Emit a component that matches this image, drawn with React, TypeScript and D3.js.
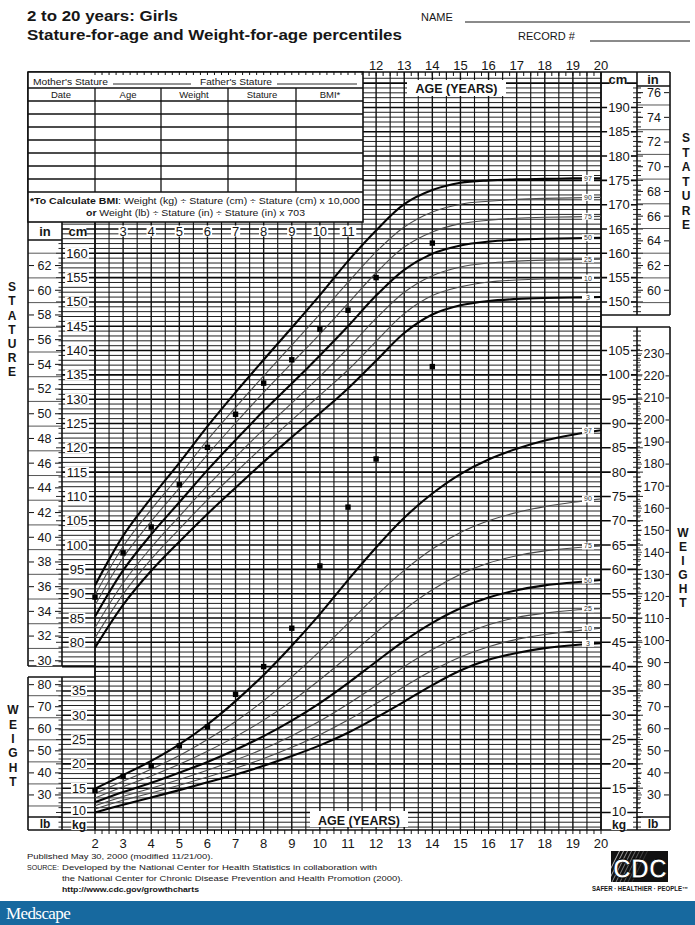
import React from 'react';
import * as d3 from 'd3';

// ---------- DATA ----------
const AGES = [2, 3, 4, 5, 6, 7, 8, 9, 10, 11, 12, 13, 14, 15, 16, 17, 18, 19, 20];
const PERCENTILES = ['97', '90', '75', '50', '25', '10', '3'];
const BOLD_PCT = ['97', '50', '3'];

const STATURE_P97 = [91.7, 101.9, 109.7, 116.9, 124.4, 131.4, 138.1, 144.7, 151.4, 158.4, 164.7, 170.1, 173.0, 174.5, 175.0, 175.2, 175.3, 175.4, 175.4];
const STATURE_P90 = [89.7, 99.7, 107.3, 114.3, 121.6, 128.3, 134.8, 141.1, 147.5, 154.0, 160.3, 165.4, 168.5, 170.1, 170.7, 171.1, 171.3, 171.4, 171.5];
const STATURE_P75 = [87.6, 97.4, 104.9, 111.7, 118.6, 125.1, 131.4, 137.4, 143.4, 149.7, 156.0, 161.3, 164.4, 166.1, 166.8, 167.2, 167.4, 167.5, 167.6];
const STATURE_P50 = [85.3, 94.8, 102.2, 108.8, 115.4, 121.6, 127.6, 133.2, 139.0, 145.0, 151.3, 156.6, 159.9, 161.6, 162.4, 162.8, 163.0, 163.1, 163.2];
const STATURE_P25 = [83.0, 92.2, 99.5, 105.9, 112.2, 118.1, 123.8, 129.2, 134.7, 140.5, 146.6, 152.0, 155.4, 157.2, 158.0, 158.4, 158.6, 158.7, 158.8];
const STATURE_P10 = [80.9, 89.9, 97.1, 103.3, 109.3, 114.9, 120.4, 125.7, 130.8, 136.0, 141.9, 147.6, 151.3, 153.1, 154.1, 154.5, 154.7, 154.8, 154.9];
const STATURE_P3 = [78.9, 87.7, 94.7, 100.7, 106.4, 111.8, 117.1, 122.2, 127.1, 132.2, 137.9, 143.6, 147.4, 149.3, 150.2, 150.6, 150.8, 150.9, 151.0];

const WEIGHT_P97 = [14.9, 17.7, 20.6, 24.0, 28.1, 32.9, 38.3, 44.3, 50.8, 57.8, 64.5, 70.6, 75.6, 79.6, 82.6, 84.8, 86.5, 87.7, 88.6];
const WEIGHT_P90 = [13.9, 16.4, 18.9, 21.7, 25.0, 28.7, 33.0, 37.9, 43.2, 48.9, 54.6, 59.8, 64.2, 67.6, 70.0, 71.7, 72.9, 73.8, 74.5];
const WEIGHT_P75 = [13.0, 15.3, 17.5, 19.9, 22.6, 25.6, 29.0, 32.9, 37.3, 42.1, 47.0, 51.7, 55.8, 59.0, 61.3, 62.8, 63.8, 64.4, 64.8];
const WEIGHT_P50 = [12.1, 14.2, 16.1, 18.2, 20.4, 22.9, 25.7, 28.9, 32.5, 36.6, 41.0, 45.3, 49.0, 52.0, 54.2, 55.7, 56.7, 57.3, 57.8];
const WEIGHT_P25 = [11.4, 13.3, 15.0, 16.8, 18.7, 20.8, 23.1, 25.8, 28.8, 32.3, 36.1, 40.0, 43.5, 46.4, 48.6, 50.1, 51.0, 51.6, 51.9];
const WEIGHT_P10 = [10.7, 12.5, 14.0, 15.6, 17.3, 19.1, 21.1, 23.4, 26.0, 29.0, 32.4, 35.9, 39.2, 42.0, 44.1, 45.6, 46.6, 47.3, 47.9];
const WEIGHT_P3 = [10.0, 11.6, 13.1, 14.6, 16.2, 17.8, 19.6, 21.6, 23.8, 26.4, 29.5, 32.8, 36.2, 39.2, 41.4, 42.8, 43.8, 44.4, 44.8];

const DOT_AGES = [2, 3, 4, 5, 6, 7, 8, 9, 10, 11, 12, 14];
const STATURE_DOTS = [89.3, 98.4, 103.7, 112.4, 120.1, 126.9, 133.3, 138.1, 144.4, 148.3, 155.0, 162.1];
const WEIGHT_DOTS = [14.5, 17.4, 19.6, 23.7, 27.6, 34.3, 40.0, 47.9, 60.7, 72.8, 82.7, 101.7];

const TOP_AGE_LABELS = [12, 13, 14, 15, 16, 17, 18, 19, 20];
const INNER_AGE_LABELS = [3, 4, 5, 6, 7, 8, 9, 10, 11];
const BOTTOM_AGE_LABELS = [2, 3, 4, 5, 6, 7, 8, 9, 10, 11, 12, 13, 14, 15, 16, 17, 18, 19, 20];
const CM_LEFT = [80, 85, 90, 95, 100, 105, 110, 115, 120, 125, 130, 135, 140, 145, 150, 155, 160];
const IN_LEFT = [30, 32, 34, 36, 38, 40, 42, 44, 46, 48, 50, 52, 54, 56, 58, 60, 62];
const CM_RIGHT = [150, 155, 160, 165, 170, 175, 180, 185, 190];
const IN_RIGHT = [60, 62, 64, 66, 68, 70, 72, 74, 76];
const KG_LEFT = [10, 15, 20, 25, 30, 35];
const LB_LEFT = [30, 40, 50, 60, 70, 80];
const KG_RIGHT = [10, 15, 20, 25, 30, 35, 40, 45, 50, 55, 60, 65, 70, 75, 80, 85, 90, 95, 100, 105];
const LB_RIGHT = [30, 40, 50, 60, 70, 80, 90, 100, 110, 120, 130, 140, 150, 160, 170, 180, 190, 200, 210, 220, 230];
const TABLE_COLUMNS = ['Date', 'Age', 'Weight', 'Stature', 'BMI*'];

const STATURE_SERIES = [STATURE_P97, STATURE_P90, STATURE_P75, STATURE_P50, STATURE_P25, STATURE_P10, STATURE_P3];
const WEIGHT_SERIES = [WEIGHT_P97, WEIGHT_P90, WEIGHT_P75, WEIGHT_P50, WEIGHT_P25, WEIGHT_P10, WEIGHT_P3];

// ---------- SCALES ----------
const x = d3.scaleLinear().domain([2, 20]).range([95, 601]);
const yS = d3.scaleLinear().domain([80, 160]).range([642.3, 253.3]);
const yW = d3.scaleLinear().domain([10, 105]).range([yS(45), yS(140)]);
const yIn = (v: number) => yS(v * 2.54);
const yLb = (v: number) => yW(v * 0.45359237);

const F = "'Liberation Sans', Arial, Helvetica, sans-serif";
const INK = '#161616';

const GRID_TOP = 72;
const GRID_BOTTOM = 830;
const TABLE_BOTTOM = 222;
const TABLE_RIGHT = 363;

function Label({ x: lx, y: ly, text, size = 13, bold = false, bg = true, anchor = 'middle' as any, w }: any) {
  const width = w ?? String(text).length * size * 0.56 + 2;
  const bx = anchor === 'middle' ? lx - width / 2 : anchor === 'end' ? lx - width : lx;
  return (
    <g>
      {bg && <rect x={bx} y={ly - size * 0.42} width={width} height={size * 0.84} fill="#fff" />}
      <text x={lx} y={ly} dy="0.35em" textAnchor={anchor} fontFamily={F} fontSize={size} fontWeight={bold ? 'bold' : 'normal'} fill={INK}>
        {text}
      </text>
    </g>
  );
}

export default function App() {
  const hLines: any[] = [];
  d3.range(42, 198).forEach((cm) => {
    const y = yS(cm);
    if (y < GRID_TOP + 2 || y > GRID_BOTTOM - 1) return;
    const major = cm % 5 === 0;
    let x0 = 62;
    if (y < TABLE_BOTTOM + 1) x0 = TABLE_RIGHT;
    else if (y > 667 && y < 678) x0 = 95;
    let x1 = 601;
    if (major && (y < 315 || y > 327)) x1 = 637;
    hLines.push(
      <line key={'h' + cm} x1={x0} x2={x1} y1={y} y2={y} stroke={major ? '#0a0a0a' : '#222'} strokeWidth={major ? 1.6 : 1.0} />
    );
  });

  const vLines: any[] = [];
  d3.range(2, 20.01, 0.5).forEach((a) => {
    const xx = x(a);
    const top = xx >= TABLE_RIGHT - 1 ? GRID_TOP : TABLE_BOTTOM;
    const whole = Math.abs(a - Math.round(a)) < 0.01;
    vLines.push(<line key={'v' + a} x1={xx} x2={xx} y1={top} y2={GRID_BOTTOM} stroke="#111" strokeWidth={whole ? 1.4 : 1.1} />);
  });

  const qTicks: any[] = [];
  d3.range(2, 20.01, 0.25).forEach((a) => {
    const xx = x(a);
    qTicks.push(<line key={'tq' + a} x1={xx} x2={xx} y1={GRID_TOP} y2={GRID_TOP + 4} stroke="#111" strokeWidth={1} />);
    qTicks.push(<line key={'bq' + a} x1={xx} x2={xx} y1={GRID_BOTTOM} y2={GRID_BOTTOM + 4} stroke="#111" strokeWidth={1} />);
  });

  const axisTicks: any[] = [];
  d3.range(42, 198).forEach((cm) => {
    const y = yS(cm);
    const major = cm % 5 === 0;
    if ((y > 241 && y < 666) || (y > 678 && y < 829)) {
      axisTicks.push(<line key={'la' + cm} x1={major ? 56 : 58.5} x2={62} y1={y} y2={y} stroke="#111" strokeWidth={0.9} />);
    }
    if ((y > 87 && y < 314) || (y > 328 && y < 829)) {
      axisTicks.push(<line key={'ra' + cm} x1={major ? 630 : 633} x2={major ? 643 : 641} y1={y} y2={y} stroke="#111" strokeWidth={0.9} />);
    }
  });

  const statureLine = d3
    .line<number>()
    .x((_, i) => x(AGES[i]))
    .y((d) => yS(d))
    .curve(d3.curveCatmullRom.alpha(0.5));
  const statPaths = STATURE_SERIES.map((s) => statureLine(s) as string);
  const weightLine = d3
    .line<number>()
    .x((_, i) => x(AGES[i]))
    .y((d) => yW(d))
    .curve(d3.curveCatmullRom.alpha(0.5));
  const weightPaths = WEIGHT_SERIES.map((s) => weightLine(s) as string);

  const tableRows = [101, 114, 127, 140, 153, 166, 179, 192];
  const tableCols = [95, 161, 228, 296];
  const colCenters = [61, 128, 194, 262, 330];

  return (
    <div style={{ position: 'absolute', left: 0, top: 0, width: 695, height: 925, background: '#fff' }}>
      <svg width={695} height={925} viewBox="0 0 695 925" style={{ display: 'block' }}>
        <rect x={0} y={0} width={695} height={925} fill="#fff" />

        {/* Header */}
        <text x={27} y={21} fontFamily={F} fontSize={15} fontWeight="bold" fill={INK} textLength={151} lengthAdjust="spacingAndGlyphs">
          2 to 20 years: Girls
        </text>
        <text x={27} y={40} fontFamily={F} fontSize={15} fontWeight="bold" fill={INK} textLength={375} lengthAdjust="spacingAndGlyphs">
          Stature-for-age and Weight-for-age percentiles
        </text>
        <text x={421} y={21} fontFamily={F} fontSize={11} fill={INK}>NAME</text>
        <line x1={465} x2={690} y1={22} y2={22} stroke={INK} strokeWidth={1} />
        <text x={518} y={40} fontFamily={F} fontSize={11} fill={INK}>RECORD #</text>
        <line x1={590} x2={690} y1={41} y2={41} stroke={INK} strokeWidth={1} />

        {TOP_AGE_LABELS.map((a) => (
          <text key={'ta' + a} x={x(a)} y={70} textAnchor="middle" fontFamily={F} fontSize={13} fill={INK}>{a}</text>
        ))}

        {/* grid */}
        <g>{hLines}</g>
        <g>{vLines}</g>
        <g>{qTicks}</g>
        <g>{axisTicks}</g>

        {d3.range(31, 64, 2).map((v) => {
          const y = yIn(v);
          if (y < 242 || y > 665) return null;
          return <line key={'lin' + v} x1={28} x2={62} y1={y} y2={y} stroke="#444" strokeWidth={0.9} />;
        })}
        {d3.range(59, 78, 2).map((v) => {
          const y = yIn(v);
          if (y < 87 || y > 314) return null;
          return <line key={'rin' + v} x1={637} x2={670} y1={y} y2={y} stroke="#444" strokeWidth={0.9} />;
        })}
        {[25, 35, 45, 55, 65, 75].map((v) => (
          <line key={'llb' + v} x1={28} x2={62} y1={yLb(v)} y2={yLb(v)} stroke="#444" strokeWidth={0.9} />
        ))}
        {d3.range(24, 236, 2).map((v) => {
          const y = yLb(v);
          if (y < 329 || y > 815) return null;
          return <line key={'rlb' + v} x1={637} x2={v % 10 === 0 ? 642 : 640} y1={y} y2={y} stroke="#111" strokeWidth={0.7} />;
        })}

        {/* borders */}
        <g fill="none" stroke="#111" strokeWidth={1.6}>
          <line x1={28} x2={670} y1={GRID_TOP} y2={GRID_TOP} />
          <line x1={28} x2={670} y1={GRID_BOTTOM} y2={GRID_BOTTOM} />
          <line x1={28} x2={28} y1={GRID_TOP} y2={666} />
          <line x1={28} x2={28} y1={677} y2={GRID_BOTTOM} />
          <line x1={62} x2={62} y1={TABLE_BOTTOM} y2={666} />
          <line x1={62} x2={62} y1={677} y2={GRID_BOTTOM} />
          <line x1={28} x2={95} y1={666} y2={666} />
          <line x1={28} x2={95} y1={677} y2={677} />
          <line x1={95} x2={95} y1={TABLE_BOTTOM} y2={GRID_BOTTOM} />
          <line x1={601} x2={601} y1={GRID_TOP} y2={GRID_BOTTOM} />
          <line x1={637} x2={637} y1={GRID_TOP} y2={315} />
          <line x1={637} x2={637} y1={327} y2={GRID_BOTTOM} />
          <line x1={670} x2={670} y1={GRID_TOP} y2={315} />
          <line x1={670} x2={670} y1={327} y2={GRID_BOTTOM} />
          <line x1={601} x2={670} y1={315} y2={315} />
          <line x1={601} x2={670} y1={327} y2={327} />
          <line x1={28} x2={62} y1={240} y2={240} />
          <line x1={637} x2={670} y1={86} y2={86} />
          <line x1={28} x2={62} y1={817} y2={817} />
          <line x1={637} x2={670} y1={817} y2={817} />
        </g>

        {/* table */}
        <rect x={28} y={GRID_TOP} width={TABLE_RIGHT - 28} height={TABLE_BOTTOM - GRID_TOP} fill="#fff" stroke="#111" strokeWidth={1.6} />
        {d3.range(2, 11.6, 0.25).map((a) => (
          <line key={'tt' + a} x1={x(a)} x2={x(a)} y1={GRID_TOP} y2={GRID_TOP + 3} stroke="#111" strokeWidth={1} />
        ))}
        <line x1={28} x2={TABLE_RIGHT} y1={88} y2={88} stroke="#111" strokeWidth={1.4} />
        {tableRows.map((ry) => (
          <line key={'tr' + ry} x1={28} x2={TABLE_RIGHT} y1={ry} y2={ry} stroke="#111" strokeWidth={1.3} />
        ))}
        {tableCols.map((cx) => (
          <line key={'tc' + cx} x1={cx} x2={cx} y1={88} y2={192} stroke="#111" strokeWidth={1.3} />
        ))}
        <text x={33} y={84.5} fontFamily={F} fontSize={9.5} fill={INK} textLength={75} lengthAdjust="spacingAndGlyphs">Mother's Stature</text>
        <line x1={113} x2={191} y1={84} y2={84} stroke="#111" strokeWidth={0.9} />
        <text x={200} y={84.5} fontFamily={F} fontSize={9.5} fill={INK} textLength={72} lengthAdjust="spacingAndGlyphs">Father's Stature</text>
        <line x1={277} x2={357} y1={84} y2={84} stroke="#111" strokeWidth={0.9} />
        {TABLE_COLUMNS.map((c, i) => (
          <text key={'th' + c} x={colCenters[i]} y={98} textAnchor="middle" fontFamily={F} fontSize={9.5} fill={INK}>{c}</text>
        ))}
        <text x={30} y={204} fontFamily={F} fontSize={9.6} fill={INK} textLength={330} lengthAdjust="spacingAndGlyphs">
          <tspan fontWeight="bold">*To Calculate BMI</tspan>: Weight (kg) ÷ Stature (cm) ÷ Stature (cm) x 10,000
        </text>
        <text x={86} y={215.5} fontFamily={F} fontSize={9.6} fill={INK} textLength={219} lengthAdjust="spacingAndGlyphs">
          <tspan fontWeight="bold">or</tspan> Weight (lb) ÷ Stature (in) ÷ Stature (in) x 703
        </text>

        {/* percentile curves */}
        {statPaths.map((p, i) => {
          const bold = BOLD_PCT.includes(PERCENTILES[i]);
          return <path key={'sp' + i} d={p} fill="none" stroke={bold ? '#050505' : '#4a4a4a'} strokeWidth={bold ? 2.1 : 1.1} />;
        })}
        {weightPaths.map((p, i) => {
          const bold = BOLD_PCT.includes(PERCENTILES[i]);
          return <path key={'wp' + i} d={p} fill="none" stroke={bold ? '#050505' : '#4a4a4a'} strokeWidth={bold ? 2.1 : 1.1} />;
        })}

        {STATURE_SERIES.map((s, i) => (
          <g key={'sl' + i}>
            <rect x={582} y={yS(s[s.length - 1]) - 3.5} width={12} height={7} fill="#fff" />
            <text x={588} y={yS(s[s.length - 1])} dy="0.35em" textAnchor="middle" fontFamily={F} fontSize={7} fill="#333">{PERCENTILES[i]}</text>
          </g>
        ))}
        {WEIGHT_SERIES.map((s, i) => (
          <g key={'wl' + i}>
            <rect x={582} y={yW(s[s.length - 1]) - 3.5} width={12} height={7} fill="#fff" />
            <text x={588} y={yW(s[s.length - 1])} dy="0.35em" textAnchor="middle" fontFamily={F} fontSize={7} fill="#333">{PERCENTILES[i]}</text>
          </g>
        ))}

        {/* AGE (YEARS) boxes */}
        <rect x={407} y={80} width={99} height={16} fill="#fff" />
        <text x={456.5} y={93} textAnchor="middle" fontFamily={F} fontSize={12.5} fontWeight="bold" fill={INK}>AGE (YEARS)</text>
        <rect x={310} y={811} width={98} height={16} fill="#fff" />
        <text x={359} y={824.5} textAnchor="middle" fontFamily={F} fontSize={12.5} fontWeight="bold" fill={INK}>AGE (YEARS)</text>

        <Label x={45} y={231} text="in" bold />
        <Label x={78} y={231} text="cm" bold />
        {INNER_AGE_LABELS.map((a) => (
          <Label key={'ia' + a} x={x(a)} y={231} text={a} />
        ))}
        <Label x={618} y={79} text="cm" bold />
        <Label x={653} y={79} text="in" bold bg={false} />
        <Label x={619} y={825} text="kg" bold size={12} />
        <Label x={653} y={824} text="lb" bold bg={false} size={12} />
        <Label x={45} y={824} text="lb" bold bg={false} size={12} />
        <Label x={79} y={825} text="kg" bold size={12} />

        {/* left axis labels */}
        {CM_LEFT.map((v) => (
          <Label key={'cl' + v} x={77} y={yS(v)} text={v} />
        ))}
        {IN_LEFT.map((v) => (
          <g key={'il' + v}>
            <line x1={29} x2={34} y1={yIn(v)} y2={yIn(v)} stroke="#111" strokeWidth={1} />
            <line x1={55} x2={61} y1={yIn(v)} y2={yIn(v)} stroke="#111" strokeWidth={1} />
            <Label x={44.5} y={yIn(v)} text={v} size={12.5} />
          </g>
        ))}
        {KG_LEFT.map((v) => (
          <Label key={'kl' + v} x={79} y={yW(v) - (v === 10 ? 1.5 : 0)} text={v} size={12.5} />
        ))}
        {LB_LEFT.map((v) => (
          <g key={'ll' + v}>
            <line x1={29} x2={34} y1={yLb(v)} y2={yLb(v)} stroke="#111" strokeWidth={1} />
            <line x1={55} x2={61} y1={yLb(v)} y2={yLb(v)} stroke="#111" strokeWidth={1} />
            <Label x={44.5} y={yLb(v)} text={v} size={12.5} />
          </g>
        ))}

        {/* right axis labels */}
        {CM_RIGHT.map((v) => (
          <Label key={'cr' + v} x={619} y={yS(v)} text={v} />
        ))}
        {IN_RIGHT.map((v) => (
          <g key={'ir' + v}>
            <line x1={638} x2={643} y1={yIn(v)} y2={yIn(v)} stroke="#111" strokeWidth={1} />
            <line x1={664} x2={669} y1={yIn(v)} y2={yIn(v)} stroke="#111" strokeWidth={1} />
            <Label x={654} y={yIn(v)} text={v} size={12.5} />
          </g>
        ))}
        {KG_RIGHT.map((v) => (
          <Label key={'kr' + v} x={619} y={yW(v) - (v === 10 ? 1.5 : 0)} text={v} />
        ))}
        {LB_RIGHT.map((v) => (
          <g key={'lr' + v}>
            <line x1={664} x2={669} y1={yLb(v)} y2={yLb(v)} stroke="#111" strokeWidth={1} />
            <Label x={654} y={yLb(v)} text={v} size={12.5} />
          </g>
        ))}

        {/* side titles */}
        {'STATURE'.split('').map((c, i) => (
          <text key={'sr' + i} x={686} y={138 + i * 14.5} dy="0.35em" textAnchor="middle" fontFamily={F} fontSize={12} fontWeight="bold" fill={INK}>{c}</text>
        ))}
        {'STATURE'.split('').map((c, i) => (
          <text key={'sL' + i} x={12} y={287 + i * 14.2} dy="0.35em" textAnchor="middle" fontFamily={F} fontSize={12} fontWeight="bold" fill={INK}>{c}</text>
        ))}
        {'WEIGHT'.split('').map((c, i) => (
          <text key={'wL' + i} x={13} y={710 + i * 14.4} dy="0.35em" textAnchor="middle" fontFamily={F} fontSize={12} fontWeight="bold" fill={INK}>{c}</text>
        ))}
        {'WEIGHT'.split('').map((c, i) => (
          <text key={'wr' + i} x={683} y={533 + i * 14} dy="0.35em" textAnchor="middle" fontFamily={F} fontSize={12} fontWeight="bold" fill={INK}>{c}</text>
        ))}

        {/* measured points */}
        {DOT_AGES.map((a, i) => (
          <rect key={'ds' + i} x={x(a) - 2.7} y={yS(STATURE_DOTS[i]) - 2.7} width={5.4} height={5.4} fill="#000" />
        ))}
        {DOT_AGES.map((a, i) => (
          <rect key={'dw' + i} x={x(a) - 2.7} y={yW(WEIGHT_DOTS[i]) - 2.7} width={5.4} height={5.4} fill="#000" />
        ))}

        {BOTTOM_AGE_LABELS.map((a) => (
          <text key={'ba' + a} x={x(a)} y={848} textAnchor="middle" fontFamily={F} fontSize={13} fill={INK}>{a}</text>
        ))}

        {/* footer */}
        <text x={27} y={859} fontFamily={F} fontSize={7.8} fill={INK} textLength={186} lengthAdjust="spacingAndGlyphs">Published May 30, 2000 (modified 11/21/00).</text>
        <text x={27} y={870} fontFamily={F} fontSize={7.8} fill={INK} textLength={32} lengthAdjust="spacingAndGlyphs">SOURCE:</text>
        <text x={62} y={870} fontFamily={F} fontSize={7.8} fill={INK} textLength={315} lengthAdjust="spacingAndGlyphs">Developed by the National Center for Health Statistics in collaboration with</text>
        <text x={62} y={881} fontFamily={F} fontSize={7.8} fill={INK} textLength={341} lengthAdjust="spacingAndGlyphs">the National Center for Chronic Disease Prevention and Health Promotion (2000).</text>
        <text x={62} y={892} fontFamily={F} fontSize={7.8} fontWeight="bold" fill={INK} textLength={137} lengthAdjust="spacingAndGlyphs">http://www.cdc.gov/growthcharts</text>

        {/* CDC logo */}
        <g>
          <clipPath id="cdcclip">
            <rect x={611} y={851} width={57} height={31} />
          </clipPath>
          <rect x={611} y={851} width={57} height={31} fill="#111" />
          <g clipPath="url(#cdcclip)">
            {d3.range(0, 8).map((k) => (
              <line key={'st' + k} x1={600 + k * 4} x2={620 + k * 4} y1={890} y2={850} stroke="#fff" strokeWidth={0.9} opacity={0.8 - k * 0.09} />
            ))}
          </g>
          <text x={640} y={878} textAnchor="middle" fontFamily={F} fontSize={27} fontWeight="bold" fill="#fff" stroke="#000" strokeWidth={0.8} textLength={54} lengthAdjust="spacingAndGlyphs">CDC</text>
        </g>
        <text x={640} y={891} textAnchor="middle" fontFamily={F} fontSize={6.3} fontWeight="bold" fill={INK} textLength={96} lengthAdjust="spacingAndGlyphs">SAFER · HEALTHIER · PEOPLE™</text>

        {/* Medscape bar */}
        <rect x={0} y={901} width={695} height={24} fill="#17699f" />
        <text x={6} y={919} fontFamily="'Liberation Serif', 'DejaVu Serif', serif" fontSize={17} fill="#fff" letterSpacing={-0.6}>Medscape</text>
      </svg>
    </div>
  );
}
